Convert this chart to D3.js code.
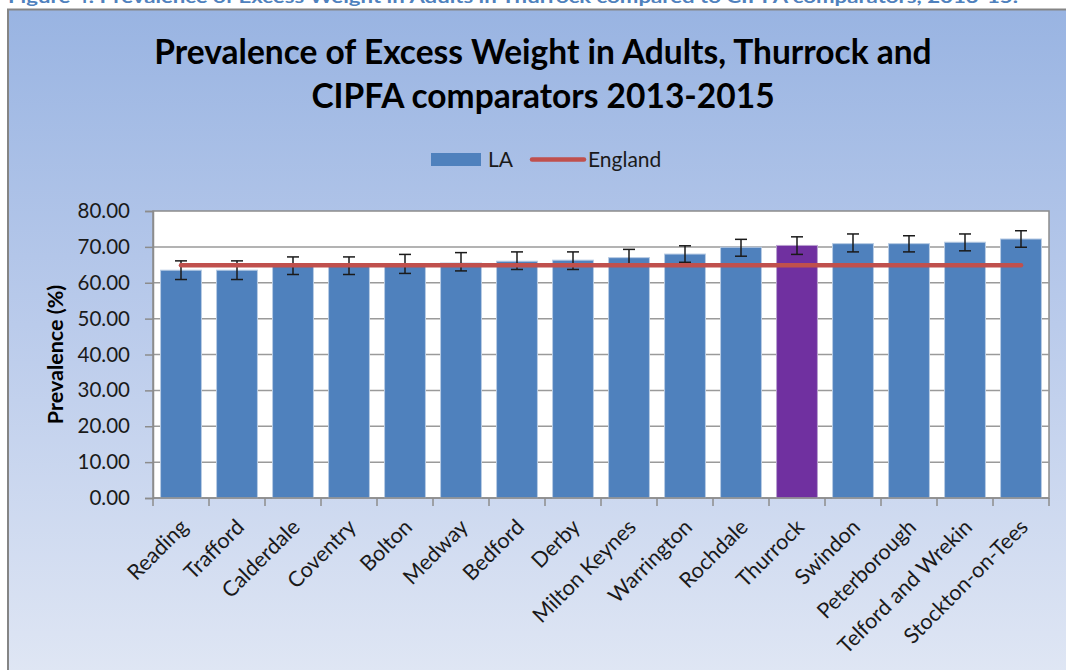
<!DOCTYPE html>
<html>
<head>
<meta charset="utf-8">
<script src="https://cdn.jsdelivr.net/npm/d3@7"></script>
<style>
  body { margin: 0; background: #fff; }
  svg { display: block; font-family: Lato, "Open Sans", sans-serif; }
</style>
</head>
<body>
<div id="chart"></div>
<script>
// values
const categories = ['Reading', 'Trafford', 'Calderdale', 'Coventry', 'Bolton', 'Medway', 'Bedford', 'Derby',
  'Milton Keynes', 'Warrington', 'Rochdale', 'Thurrock', 'Swindon', 'Peterborough', 'Telford and Wrekin', 'Stockton-on-Tees'];
const laValues = [63.5, 63.5, 64.8, 64.8, 65.2, 65.5, 66.0, 66.3, 67.0, 68.0, 69.9, 70.4, 70.9, 70.9, 71.3, 72.2];
const ciLower = [60.9, 60.9, 62.3, 62.3, 62.6, 63.3, 63.7, 63.7, 64.7, 65.7, 67.4, 67.9, 68.6, 68.6, 68.9, 69.9];
const ciUpper = [66.1, 66.1, 67.2, 67.2, 67.9, 68.4, 68.6, 68.6, 69.3, 70.3, 72.1, 72.8, 73.6, 73.1, 73.6, 74.5];
const englandValues = [64.9, 64.9, 64.9, 64.9, 64.9, 64.9, 64.9, 64.9, 64.9, 64.9, 64.9, 64.9, 64.9, 64.9, 64.9, 64.9];
const yTicks = [0, 10, 20, 30, 40, 50, 60, 70, 80];
const highlight = 'Thurrock';

const colors = {
  la: '#4F81BD',
  highlight: '#7030A0',
  england: '#C0504D',
};

const width = 1066;
const height = 670;
const plot = { left: 153, right: 1049, top: 211, bottom: 498 };

const svg = d3.select('#chart').append('svg')
  .attr('width', width)
  .attr('height', height);

const defs = svg.append('defs');
const grad = defs.append('linearGradient')
  .attr('id', 'bg')
  .attr('x1', 0).attr('y1', 0).attr('x2', 0).attr('y2', 1);
grad.append('stop').attr('offset', '0%').attr('stop-color', '#99B4E2');
grad.append('stop').attr('offset', '45%').attr('stop-color', '#BACBEB');
grad.append('stop').attr('offset', '100%').attr('stop-color', '#E3E9F5');

// caption of the document, clipped at the top edge
svg.append('text')
  .attr('x', 8)
  .attr('y', 3)
  .attr('textLength', 1010)
  .attr('lengthAdjust', 'spacingAndGlyphs')
  .attr('fill', '#4F81BD')
  .attr('font-weight', 'bold')
  .attr('font-size', 17)
  .text('Figure 4: Prevalence of Excess Weight in Adults in Thurrock compared to CIPFA comparators, 2013-15.');

// chart frame
svg.append('rect')
  .attr('x', 8)
  .attr('y', 9.5)
  .attr('width', 1080)
  .attr('height', 700)
  .attr('fill', 'url(#bg)')
  .attr('stroke', '#858585')
  .attr('stroke-width', 2);

// title
const title = svg.append('text')
  .attr('text-anchor', 'middle')
  .attr('font-weight', 'bold')
  .attr('font-size', 33.5)
  .attr('fill', '#000');
title.append('tspan').attr('x', 543).attr('y', 64).text('Prevalence of Excess Weight in Adults, Thurrock and');
title.append('tspan').attr('x', 543).attr('y', 108).text('CIPFA comparators 2013-2015');

// legend
const legend = svg.append('g').attr('font-size', 21).attr('fill', '#1a1a1a');
legend.append('rect')
  .attr('x', 431).attr('y', 153)
  .attr('width', 50).attr('height', 13)
  .attr('fill', colors.la);
legend.append('text').attr('x', 488).attr('y', 167).text('LA');
legend.append('line')
  .attr('x1', 532).attr('x2', 584)
  .attr('y1', 159.5).attr('y2', 159.5)
  .attr('stroke', colors.england)
  .attr('stroke-width', 4.5)
  .attr('stroke-linecap', 'round');
legend.append('text').attr('x', 588).attr('y', 167).text('England');

const x = d3.scaleBand()
  .domain(categories)
  .range([plot.left, plot.right])
  .paddingInner(0.27)
  .paddingOuter(0.135);

const y = d3.scaleLinear()
  .domain([0, 80])
  .range([plot.bottom, plot.top]);

// plot area
svg.append('rect')
  .attr('x', plot.left)
  .attr('y', plot.top)
  .attr('width', plot.right - plot.left)
  .attr('height', plot.bottom - plot.top)
  .attr('fill', '#fff')
  .attr('stroke', '#8C8C8C')
  .attr('stroke-width', 1.5);

// gridlines
svg.append('g')
  .selectAll('line')
  .data(yTicks.slice(1, -1))
  .join('line')
    .attr('x1', plot.left)
    .attr('x2', plot.right)
    .attr('y1', d => y(d))
    .attr('y2', d => y(d))
    .attr('stroke', '#9A9A9A')
    .attr('stroke-width', 1.5);

// y axis
svg.append('g')
  .attr('transform', `translate(${plot.left},0)`)
  .call(d3.axisLeft(y).tickValues(yTicks).tickFormat(d3.format('.2f')).tickSize(8).tickPadding(15))
  .call(g => g.select('.domain').attr('stroke', '#8C8C8C').attr('stroke-width', 1.5))
  .call(g => g.selectAll('.tick line').attr('stroke', '#8C8C8C').attr('stroke-width', 1.5))
  .call(g => g.selectAll('.tick text')
    .attr('font-size', 20.5)
    .attr('font-family', 'Lato, sans-serif')
    .attr('fill', '#1a1a1a'));

svg.append('text')
  .attr('transform', `translate(63,${(plot.top + plot.bottom) / 2}) rotate(-90)`)
  .attr('text-anchor', 'middle')
  .attr('font-weight', 'bold')
  .attr('font-size', 21.5)
  .attr('fill', '#000')
  .text('Prevalence (%)');

// bars
svg.append('g')
  .selectAll('rect')
  .data(categories)
  .join('rect')
    .attr('x', d => x(d))
    .attr('y', (d, i) => y(laValues[i]))
    .attr('width', x.bandwidth())
    .attr('height', (d, i) => y(0) - y(laValues[i]))
    .attr('fill', d => d === highlight ? colors.highlight : colors.la)
    .attr('stroke', d => d === highlight ? '#B9A0D0' : '#B8CCE4')
    .attr('stroke-width', 1);

// x axis: category boundary ticks and rotated labels
const boundaries = d3.range(categories.length + 1).map(i => plot.left + i * (plot.right - plot.left) / categories.length);
svg.append('g')
  .selectAll('line')
  .data(boundaries)
  .join('line')
    .attr('x1', d => d).attr('x2', d => d)
    .attr('y1', plot.bottom).attr('y2', plot.bottom + 8)
    .attr('stroke', '#8C8C8C')
    .attr('stroke-width', 1.5);

svg.append('line')
  .attr('x1', plot.left).attr('x2', plot.right)
  .attr('y1', plot.bottom).attr('y2', plot.bottom)
  .attr('stroke', '#8C8C8C')
  .attr('stroke-width', 1.5);

svg.append('g')
  .selectAll('text')
  .data(categories)
  .join('text')
    .attr('transform', d => `translate(${x(d) + x.bandwidth() / 2 - 3},${plot.bottom + 19}) rotate(-45)`)
    .attr('text-anchor', 'end')
    .attr('dy', '0.75em')
    .attr('font-size', 21.5)
    .attr('fill', '#1a1a1a')
    .text(d => d);

// error bars
const err = svg.append('g')
  .attr('stroke', '#1a1a1a')
  .attr('stroke-width', 1.5);
categories.forEach((c, i) => {
  const cx = x(c) + x.bandwidth() / 2;
  err.append('line').attr('x1', cx).attr('x2', cx).attr('y1', y(ciLower[i])).attr('y2', y(ciUpper[i]));
  err.append('line').attr('x1', cx - 6).attr('x2', cx + 6).attr('y1', y(ciLower[i])).attr('y2', y(ciLower[i]));
  err.append('line').attr('x1', cx - 6).attr('x2', cx + 6).attr('y1', y(ciUpper[i])).attr('y2', y(ciUpper[i]));
});

// England line
const line = d3.line()
  .x((d, i) => x(categories[i]) + x.bandwidth() / 2)
  .y(d => y(d));

svg.append('path')
  .datum(englandValues)
  .attr('d', line)
  .attr('fill', 'none')
  .attr('stroke', colors.england)
  .attr('stroke-width', 4.5)
  .attr('stroke-linecap', 'round');
</script>
</body>
</html>
